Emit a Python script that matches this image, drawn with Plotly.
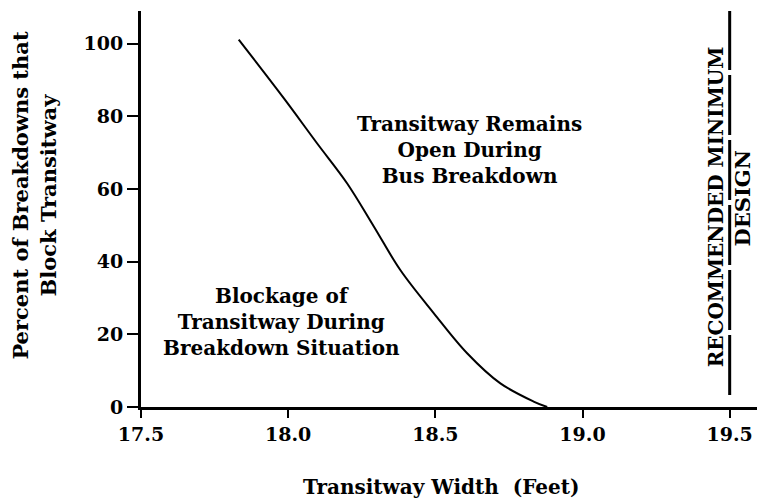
import plotly.graph_objects as go

# Data
width_ft = [17.832, 17.985, 18.098, 18.200, 18.291, 18.381, 18.495, 18.608, 18.721, 18.834, 18.880]
pct_blocked = [101.1, 85.0, 72.6, 61.6, 49.7, 37.7, 25.8, 14.8, 6.5, 1.5, 0.0]
x_ticks = [17.5, 18.0, 18.5, 19.0, 19.5]
y_ticks = [0, 20, 40, 60, 80, 100]
recommended_min = 19.5

FONT = "DejaVu Serif"

fig = go.Figure()
fig.add_trace(go.Scatter(
    x=width_ft, y=pct_blocked, mode="lines",
    line=dict(color="black", width=2, shape="spline", smoothing=1.0),
    showlegend=False, hoverinfo="skip",
))

fig.add_shape(type="line", xref="x", yref="y",
              x0=recommended_min, x1=recommended_min, y0=3.3, y1=109,
              line=dict(color="black", width=3, dash="60px,5px"))

def ann(text, x, y, size, angle=0, xref="x", yref="y"):
    fig.add_annotation(text=text, x=x, y=y, xref=xref, yref=yref,
                       showarrow=False, textangle=angle,
                       xanchor="center", yanchor="middle",
                       font=dict(family=FONT, size=size, color="black", weight="bold"))

ann("Transitway Remains<br>Open During<br>Bus Breakdown", 18.616, 70.8, 20)
ann("Blockage of<br>Transitway During<br>Breakdown Situation", 17.977, 23.4, 20)
ann("RECOMMENDED MINIMUM", 19.452, 55.1, 20, angle=-90)
ann("DESIGN", 19.544, 57.3, 21, angle=-90)
ann("Percent of Breakdowns that<br>Block Transitway", -0.1707, 0.535, 21, angle=-90,
    xref="paper", yref="paper")
ann("Transitway Width  (Feet)", 0.4808, -0.202, 20, xref="paper", yref="paper")

axis_common = dict(
    showline=True, linecolor="black", linewidth=3, mirror=False,
    ticks="outside", tickwidth=2, tickcolor="black",
    showgrid=False, zeroline=False,
    tickfont=dict(family=FONT, size=19, color="black", weight="bold"),
)

fig.update_xaxes(range=[17.5, 19.62], tickvals=x_ticks, tickformat=".1f", ticklen=8, **axis_common)
fig.update_yaxes(range=[0, 109], tickvals=y_ticks, ticklen=11, **axis_common)

# the page body adds an 8px offset, so the figure is sized to fit the 765x501 window
fig.update_layout(
    width=757, height=493,
    margin=dict(l=133, r=0, t=3, b=94),
    paper_bgcolor="white", plot_bgcolor="white",
    showlegend=False,
)

fig.write_html("out.html")
